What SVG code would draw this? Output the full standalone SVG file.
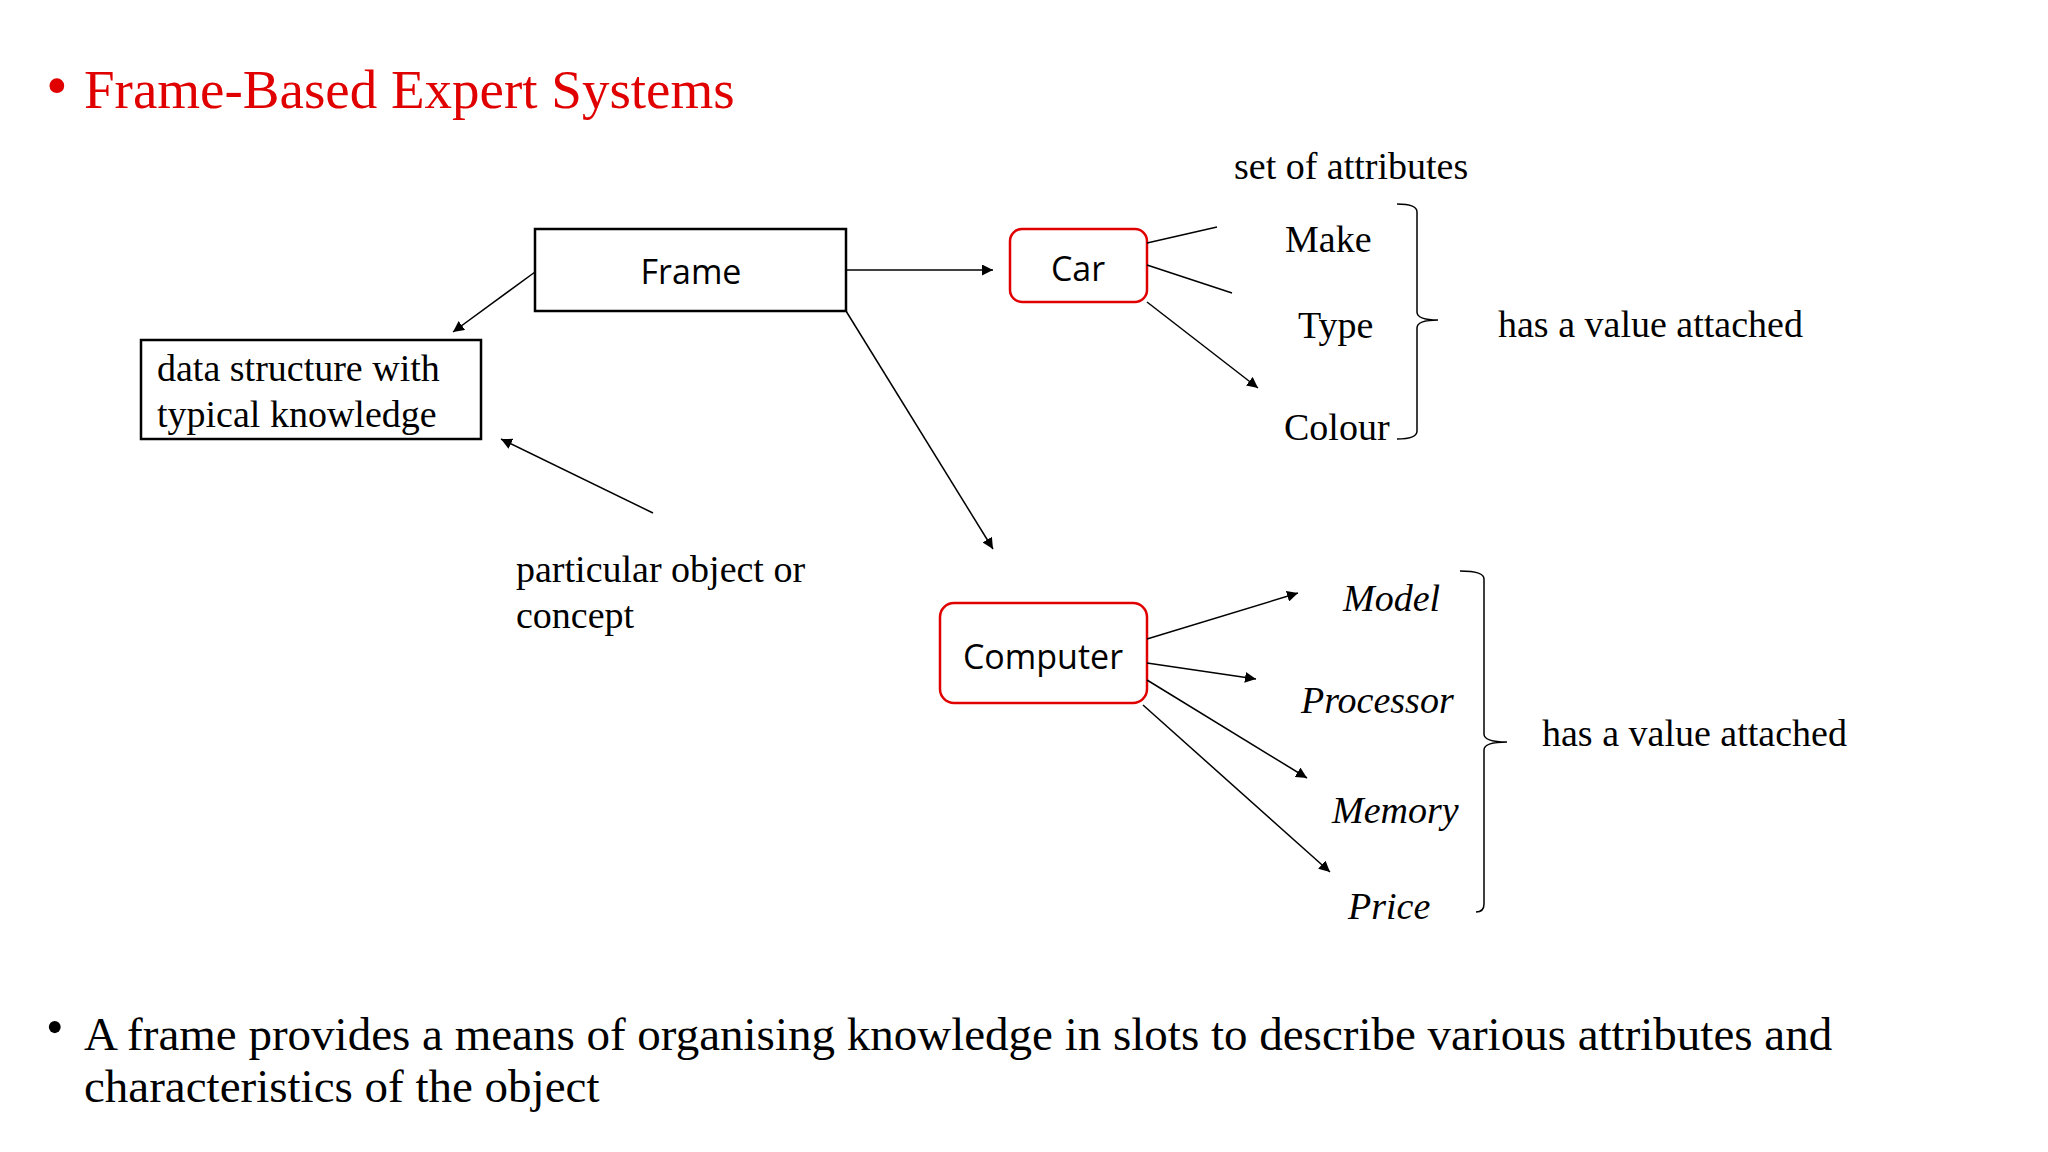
<svg xmlns="http://www.w3.org/2000/svg" width="2048" height="1152" viewBox="0 0 2048 1152">
<defs>
<marker id="ah" viewBox="0 0 10 10" refX="10" refY="5" markerWidth="11" markerHeight="11" markerUnits="userSpaceOnUse" orient="auto"><path d="M0,0 L10,5 L0,10 z" fill="#000"/></marker>
<style>
.serif{font-family:"Liberation Serif","Times New Roman",serif;fill:#000}
.sans{font-family:"Open Sans","Liberation Sans",sans-serif;fill:#000;text-anchor:middle}
.ln{stroke:#000;stroke-width:1.5;fill:none}
.arr{stroke:#000;stroke-width:1.5;fill:none;marker-end:url(#ah)}
.br{stroke:#000;stroke-width:1.5;fill:none}
</style>
</defs>
<rect width="2048" height="1152" fill="#fff"/>
<text class="serif" x="46" y="106" font-size="62" style="fill:#e00000">•</text>
<text class="serif" x="84" y="108" font-size="55" style="fill:#e00000">Frame-Based Expert Systems</text>
<g id="frame"><rect x="535" y="229" width="311" height="82" fill="#fff" stroke="#000" stroke-width="2.5"/><text class="sans" x="691" y="284" font-size="34">Frame</text></g>
<g id="data"><rect x="141" y="340" width="340" height="99" fill="#fff" stroke="#000" stroke-width="2.5"/><text class="serif" x="157" y="381" font-size="38">data structure with</text><text class="serif" x="157" y="427" font-size="38">typical knowledge</text></g>
<g id="car"><rect x="1010" y="229" width="137" height="73" rx="12" fill="#fff" stroke="#e00000" stroke-width="2.5"/><text class="sans" x="1078" y="281" font-size="34">Car</text></g>
<g id="computer"><rect x="940" y="603" width="207" height="100" rx="14" fill="#fff" stroke="#e00000" stroke-width="2.5"/><text class="sans" x="1043" y="669" font-size="34">Computer</text></g>
<g id="labels">
<text class="serif" x="516" y="582" font-size="38">particular object or</text>
<text class="serif" x="516" y="628" font-size="38">concept</text>
<text class="serif" x="1234" y="179" font-size="38">set of attributes</text>
<text class="serif" x="1285" y="252" font-size="38">Make</text>
<text class="serif" x="1298" y="338" font-size="38">Type</text>
<text class="serif" x="1284" y="440" font-size="38">Colour</text>
<text class="serif" x="1498" y="337" font-size="38">has a value attached</text>
<text class="serif" x="1343" y="611" font-size="38" font-style="italic">Model</text>
<text class="serif" x="1301" y="713" font-size="38" font-style="italic">Processor</text>
<text class="serif" x="1332" y="823" font-size="38" font-style="italic">Memory</text>
<text class="serif" x="1348" y="919" font-size="38" font-style="italic">Price</text>
<text class="serif" x="1542" y="746" font-size="38">has a value attached</text>
</g>
<g id="connectors">
<line class="arr" x1="535" y1="272" x2="453" y2="332"/>
<line class="arr" x1="846" y1="270" x2="993" y2="270"/>
<line class="arr" x1="846" y1="311" x2="993" y2="549"/>
<line class="arr" x1="653" y1="513" x2="501" y2="439"/>
<line class="ln" x1="1147" y1="243" x2="1217" y2="227"/>
<line class="ln" x1="1147" y1="265" x2="1232" y2="293"/>
<line class="arr" x1="1147" y1="302" x2="1258" y2="388"/>
<line class="arr" x1="1147" y1="639" x2="1298" y2="593"/>
<line class="arr" x1="1147" y1="663" x2="1256" y2="679"/>
<line class="arr" x1="1147" y1="680" x2="1307" y2="778"/>
<line class="arr" x1="1143" y1="705" x2="1330" y2="872"/>
<path class="br" d="M1397,204 Q1417,204 1417,212 L1417,312 Q1417,320 1438,320 Q1417,320 1417,328 L1417,431 Q1417,439 1397,439"/>
<path class="br" d="M1460,571 Q1484,571 1484,579 L1484,734 Q1484,742 1507,742 Q1484,742 1484,750 L1484,904 Q1484,912 1476,912"/>
</g>
<text class="serif" x="46" y="1044" font-size="50">•</text>
<text class="serif" x="84" y="1050" font-size="47">A frame provides a means of organising knowledge in slots to describe various attributes and</text>
<text class="serif" x="84" y="1102" font-size="47">characteristics of the object</text>
</svg>
